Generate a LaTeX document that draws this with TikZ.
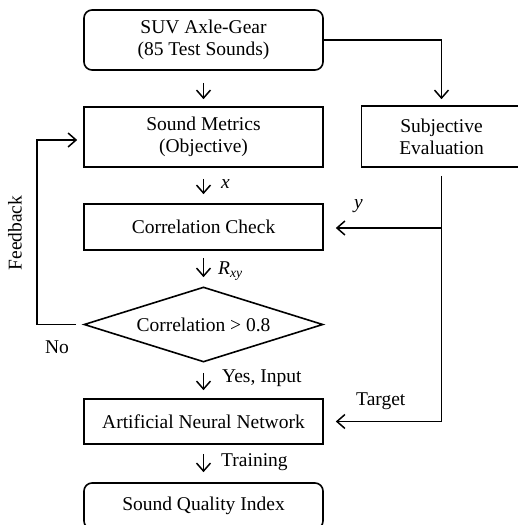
\documentclass[tikz,border=0pt]{standalone}
\usepackage{fontspec}
\setmainfont{Liberation Serif}
\usetikzlibrary{shapes.geometric,arrows.meta,calc}
\begin{document}
\begin{tikzpicture}[x=1pt,y=-1pt,
  every node/.style={font=\fontsize{19.5}{22}\selectfont},
  boxn/.style={draw, line width=1.6pt, minimum width=239pt, align=center, inner sep=0pt},
  rbox/.style={boxn, rounded corners=8pt},
  arr/.style={line width=1.5pt, -{Straight Barb[length=8pt,width=14pt,line width=1.5pt]}},
  ln/.style={line width=1.5pt},
  lbl/.style={inner sep=0pt, anchor=west}]
\useasboundingbox (0,0) rectangle (518,525);
\clip (0,0) rectangle (518,525);
\node[rbox, minimum height=60pt] (top) at (203.5,40) {SUV Axle-Gear\\(85 Test Sounds)};
\node[boxn, minimum height=60pt] (sm) at (203.5,137) {Sound Metrics\\(Objective)};
\node[boxn, minimum width=160pt, minimum height=61pt] (subj) at (441.5,136.5) {Subjective\\Evaluation};
\node[boxn, minimum height=46pt] (cc) at (203.5,227) {Correlation Check};
\node[draw, diamond, line width=1.6pt, shape aspect=3.19, minimum width=239pt, minimum height=75pt, inner sep=0pt] (dia) at (203.5,324.5) {Correlation > 0.8};
\node[boxn, minimum height=45pt] (ann) at (203.5,421.5) {Artificial Neural Network};
\node[rbox, minimum height=46pt] (sqi) at (203.5,506) {Sound Quality Index};
\coordinate (fb) at (37,140);
\coordinate (jy) at (441.5,228);
\coordinate (jt) at (441.5,421.5);
% connectors
\draw[arr] (top.east) -| ([shift={(0,-6)}]subj.north);
\draw[arr, shorten <=12pt, shorten >=7pt] (top) -- (sm);
\draw[arr, shorten <=11pt, shorten >=9pt] (sm) -- (cc);
\draw[arr, shorten <=7pt, shorten >=9pt] (cc.south) -- (dia.north);
\draw[arr, shorten <=10pt, shorten >=8pt] (dia.south) -- (ann.north);
\draw[arr, shorten <=9pt, shorten >=10pt] (ann) -- (sqi);
\draw[ln, shorten <=8pt] (subj.south) -- (jt);
\draw[arr, shorten >=12pt] (jy) -- (cc.east |- jy);
\draw[arr, shorten >=12pt] (jt) -- (ann.east);
\draw[arr, shorten <=7pt, shorten >=6pt] (dia.west) -| (fb) -- (sm.west |- fb);
% labels
\node[lbl] (lx) at (221,184) {\textit{x}};
\node[lbl] (ly) at (354,206) {\textit{y}};
\node[lbl] (lr) at (218,271) {\textit{R}\textsubscript{\textit{xy}}};
\node[lbl] (lyes) at (222,378) {Yes, Input};
\node[lbl] (ltr) at (221,462) {Training};
\node[lbl] (ltg) at (356,401) {Target};
\node[inner sep=0pt] (lno) at (57,347) {No};
\node[inner sep=0pt, rotate=90] (lfb) at (15,233) {Feedback};
\end{tikzpicture}
\end{document}
